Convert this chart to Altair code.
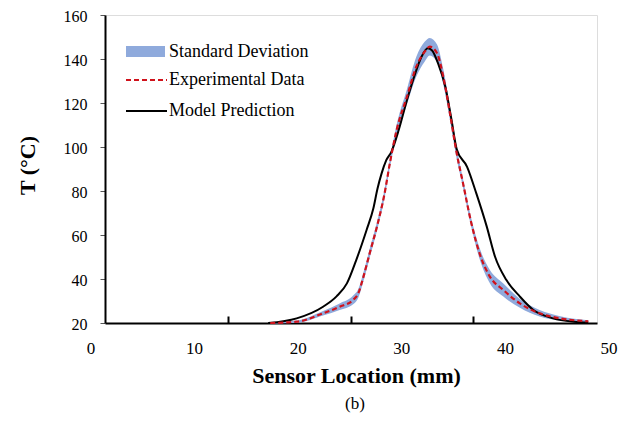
import altair as alt
import pandas as pd

# ---- data ----
exp_x = [17.3, 19.9, 22.4, 24.0, 25.3, 25.8, 26.3, 26.9, 27.6, 28.3, 28.9, 29.5, 30.5, 31.4,
         32.2, 32.7, 33.4, 34.0, 34.7, 35.3, 35.9, 36.7, 37.5, 38.5, 39.8, 41.4, 43.3, 45.3, 48.0]
exp_t = [20.0, 20.6, 24.4, 27.4, 30.5, 33.5, 41.1, 51.7, 63.8, 78.0, 94.0, 107.7, 122.9, 136.5,
         143.3, 145.6, 142.6, 132.0, 113.8, 97.1, 83.7, 65.6, 51.7, 41.1, 35.0, 28.9, 24.4, 22.1, 20.8]
exp_sd = [0.3, 0.5, 1.0, 1.5, 2.0, 2.0, 2.0, 2.0, 2.0, 2.0, 2.0, 2.5, 3.5, 4.5,
          4.5, 4.0, 4.0, 3.5, 3.0, 2.5, 2.0, 2.0, 2.5, 3.0, 3.0, 2.0, 1.5, 1.0, 0.5]

model_x = [17.1, 19.85, 22.4, 23.7, 24.7, 25.6, 26.6, 27.25, 27.65, 28.05, 28.5, 29.0, 29.7, 30.5,
           31.3, 31.9, 32.5, 32.9, 33.5, 34.2, 34.8, 35.3, 36.3, 37.2, 38.2, 39.0, 40.1, 41.4,
           42.7, 44.6, 46.6, 48.0]
model_t = [20.0, 22.1, 27.4, 32.1, 38.0, 48.6, 62.3, 72.0, 81.0, 88.0, 94.0, 97.9, 107.7, 121.4,
           133.5, 141.0, 144.9, 144.0, 138.0, 127.4, 112.3, 99.0, 91.0, 78.8, 63.8, 50.1, 39.5, 32.0,
           25.9, 22.1, 20.6, 20.2]

x_tick_labels = [0, 10, 20, 30, 40, 50]
x_tick_marks = [13.22, 25.1, 36.87]
y_ticks = [20, 40, 60, 80, 100, 120, 140, 160]
legend_labels = ["Standard Deviation", "Experimental Data", "Model Prediction"]

# ---- styling ----
FONT = "Liberation Serif"
W, H = 492, 308
X_DOMAIN = [1.35, 48.84]
BLUE = "#8faadc"
RED = "#d0121b"

exp_df = pd.DataFrame({
    "mm": exp_x,
    "T": exp_t,
    "lo": [t - s for t, s in zip(exp_t, exp_sd)],
    "hi": [t + s for t, s in zip(exp_t, exp_sd)],
})
model_df = pd.DataFrame({"mm": model_x, "T": model_t})
lab_df = pd.DataFrame({"mm": x_tick_labels, "lab": [str(v) for v in x_tick_labels]})
one = pd.DataFrame({"k": [0]})

xenc = alt.X(
    "mm:Q",
    scale=alt.Scale(domain=X_DOMAIN, nice=False, zero=False),
    axis=alt.Axis(
        orient="top", offset=-H, values=x_tick_marks, labels=False,
        tickSize=7, tickWidth=2, tickColor="black",
        domainColor="black", domainWidth=2, grid=False,
        title="Sensor Location (mm)", titleFont=FONT, titleFontSize=22,
        titleFontWeight="bold", titleColor="black",
        titleX=251, titleY=52, titleBaseline="middle", titleAlign="center",
    ),
)
yscale = alt.Scale(domain=[20, 160], nice=False, zero=False)
yaxis = alt.Axis(
    values=y_ticks, tickSize=5, tickWidth=1, tickColor="#555555",
    domainColor="black", domainWidth=2, grid=False,
    labelFont=FONT, labelFontSize=16, labelColor="black", labelPadding=13,
    labelOffset=1,
    title="T (°C)", titleFont=FONT, titleFontSize=22, titleFontWeight="bold",
    titleColor="black", titleX=-78, titleY=150, titleAlign="center",
    titleBaseline="middle", titleAngle=-90,
)
yenc = alt.Y("T:Q", scale=yscale, axis=yaxis)

band = alt.Chart(exp_df).mark_area(color=BLUE, opacity=1, interpolate="monotone").encode(
    x=xenc, y=alt.Y("lo:Q", scale=yscale, axis=yaxis), y2="hi:Q"
)
model = alt.Chart(model_df).mark_line(color="black", strokeWidth=2, interpolate="monotone").encode(
    x=xenc, y=yenc
)
exp_line = alt.Chart(exp_df).mark_line(
    color=RED, strokeWidth=2.2, strokeDash=[5, 3], interpolate="monotone"
).encode(x=xenc, y=yenc)

xlabels = alt.Chart(lab_df).mark_text(
    font=FONT, fontSize=17, color="black", baseline="middle", align="center"
).encode(x=xenc, y=alt.value(H + 26), text="lab:N")

# manual legend
leg_rect = alt.Chart(one).mark_rect(color=BLUE).encode(
    x=alt.value(21), x2=alt.value(60), y=alt.value(31), y2=alt.value(42)
)
leg_red = alt.Chart(one).mark_rule(color=RED, strokeWidth=2, strokeDash=[5, 3]).encode(
    x=alt.value(21), x2=alt.value(62), y=alt.value(65)
)
leg_black = alt.Chart(one).mark_rule(color="black", strokeWidth=2).encode(
    x=alt.value(21), x2=alt.value(62), y=alt.value(96)
)
leg_texts = [
    alt.Chart(one).mark_text(font=FONT, fontSize=18, color="black", align="left",
                             baseline="middle").encode(
        x=alt.value(64), y=alt.value(yy), text=alt.value(lbl))
    for lbl, yy in zip(legend_labels, [37, 65, 96])
]

caption = alt.Chart(one).mark_text(font=FONT, fontSize=17, color="black",
                                   baseline="middle", align="center").encode(
    x=alt.value(250), y=alt.value(389), text=alt.value("(b)")
)

chart = alt.layer(
    band, model, exp_line, xlabels, leg_rect, leg_red, leg_black, *leg_texts, caption
).properties(
    width=W, height=H,
    autosize=alt.AutoSizeParams(type="none"),
    padding={"left": 97, "top": 7, "right": 27, "bottom": 90},
).configure_view(
    stroke="black", strokeWidth=2
).configure(background="white")

chart.save("out.html", embed_options={"renderer": "svg", "actions": False})
